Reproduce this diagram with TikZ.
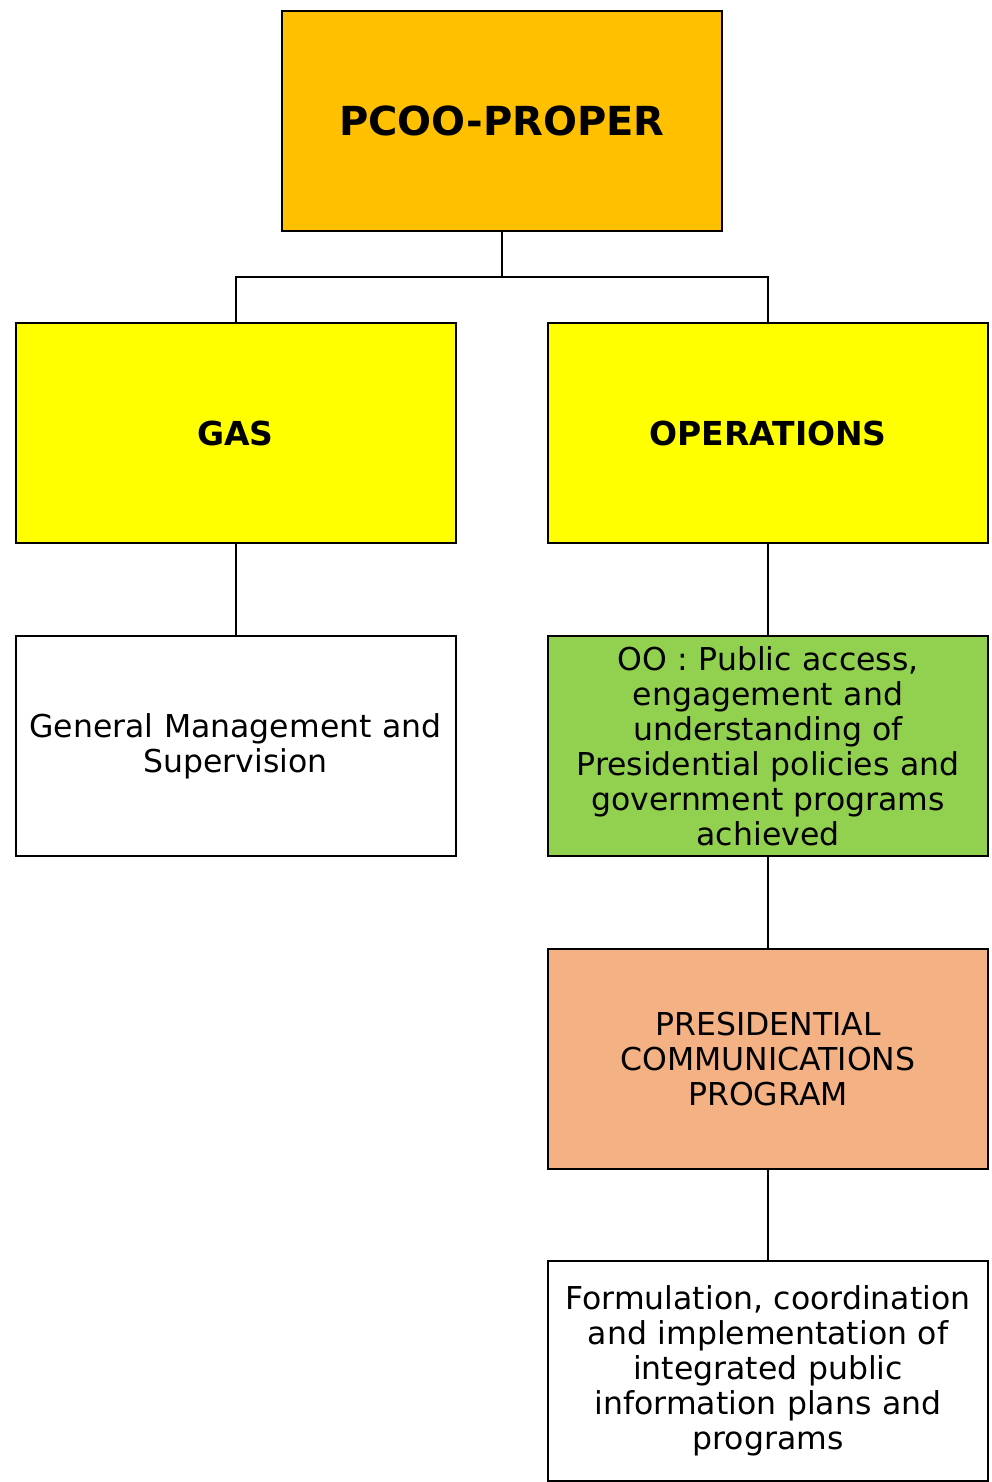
\documentclass[tikz,border=0pt]{standalone}
\usepackage{fontspec}
\setmainfont{DejaVu Sans}
\definecolor{topbox}{RGB}{255,192,0}
\definecolor{midbox}{RGB}{255,255,0}
\definecolor{oobox}{RGB}{146,208,80}
\definecolor{progbox}{RGB}{244,177,131}
\tikzset{
  unit/.style={draw=black, line width=2pt, minimum width=440pt, minimum height=220pt,
    align=center, text width=432pt, inner sep=0pt,
    font=\fontsize{31.5pt}{35pt}\selectfont},
  head/.style={font=\fontsize{33pt}{38pt}\selectfont\bfseries},
  link/.style={line width=2pt}
}
\begin{document}
\begin{tikzpicture}[x=1pt, y=-1pt]
\useasboundingbox (0,0) rectangle (992,1482);

% Top
\node[unit, fill=topbox, font=\fontsize{40pt}{46pt}\selectfont\bfseries] (pcoo) at (502,121) {PCOO-PROPER};

% Second level
\node[unit, head, fill=midbox] (gas) at (235.5,433) {GAS};
\node[unit, head, fill=midbox] (ops) at (768,433) {OPERATIONS};

% Third level
\node[unit, fill=white] (gms) at (235.5,746) {General Management and\\Supervision};
\node[unit, fill=oobox] (oo) at (768,746) {OO : Public access,\\engagement and\\understanding of\\Presidential policies and\\government programs\\achieved};

% Program
\node[unit, fill=progbox] (pcp) at (768,1059) {PRESIDENTIAL\\COMMUNICATIONS\\PROGRAM};
\node[unit, fill=white] (form) at (768,1371) {Formulation, coordination\\and implementation of\\integrated public\\information plans and\\programs};

% Connectors
\coordinate (fork) at (502,277);
\draw[link] (pcoo.south) -- (fork);
\draw[link] (gas.north) |- (fork) -| (ops.north);
\draw[link] (gas) -- (gms);
\draw[link] (ops) -- (oo);
\draw[link] (oo) -- (pcp);
\draw[link] (pcp) -- (form);
\end{tikzpicture}
\end{document}
